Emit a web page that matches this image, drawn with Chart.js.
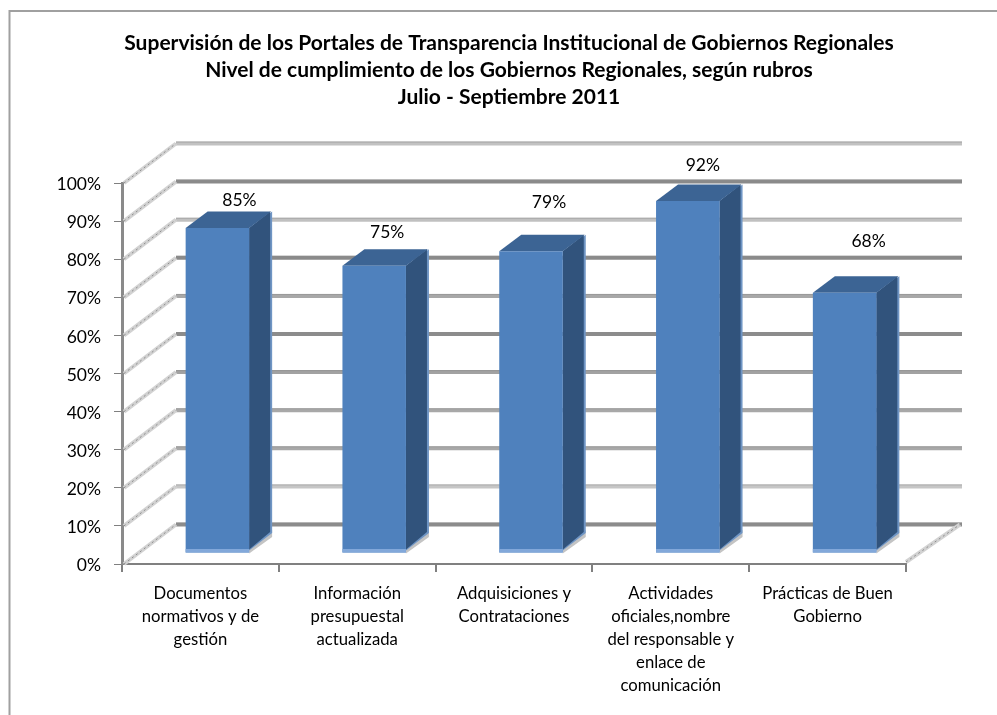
<!DOCTYPE html>
<html>
<head>
<meta charset="utf-8">
<style>html,body{margin:0;padding:0;background:#fff}canvas{display:block}</style>
<script src="https://cdn.jsdelivr.net/npm/chart.js@4"></script>
</head>
<body>
<canvas id="c" width="997" height="715"></canvas>
<script>
const titleLines = [
  "Supervisión de los Portales de Transparencia Institucional de Gobiernos Regionales",
  "Nivel de cumplimiento de los Gobiernos Regionales, según rubros",
  "Julio - Septiembre 2011"
];
const categories = [
  ["Documentos", "normativos y de", "gestión"],
  ["Información", "presupuestal", "actualizada"],
  ["Adquisiciones y", "Contrataciones"],
  ["Actividades", "oficiales,nombre", "del responsable y", "enlace de", "comunicación"],
  ["Prácticas de Buen", "Gobierno"]
];
const values = [85.3, 75.4, 79.2, 92.4, 68.3];
const gridValues = [0, 10, 20, 30, 40, 50, 60, 70, 80, 90, 100];

// styling only
const gridColors = ["#8c8c8c","#c6c6c6","#a8a8a8","#a8a8a8","#a2a2a2","#8c8c8c","#a8a8a8","#8a8a8a","#c0c0c0","#8a8a8a","#c2c2c2"];
const labelNudgeX = [22, 13, 18, 15, 24];
const labelNudgeY = [-29, -34, -50, -37, -52];
const WALL_DX = 54, WALL_DY = 39.5, WALL_END = 962;
const BAR_SHIFT_X = 17, BAR_SHIFT_Y = -11, BAR_DX = 22, BAR_DY = 16.5;
const FONT = "Lato";

const scene = {
  id: "scene",
  beforeDraw(chart) {
    const ctx = chart.ctx;
    ctx.save();
    ctx.fillStyle = "#fff";
    ctx.fillRect(0, 0, chart.width, chart.height);
    ctx.strokeStyle = "#a0a0a0";
    ctx.lineWidth = 2;
    ctx.beginPath();
    ctx.moveTo(9.5, chart.height);
    ctx.lineTo(9.5, 11);
    ctx.lineTo(chart.width, 11);
    ctx.stroke();
    ctx.restore();
  },
  beforeDatasetsDraw(chart) {
    const ctx = chart.ctx, y = chart.scales.y, a = chart.chartArea;
    ctx.save();
    gridValues.forEach((v, i) => {
      const py = y.getPixelForValue(v);
      ctx.strokeStyle = gridColors[i];
      ctx.lineWidth = 4;
      ctx.beginPath();
      ctx.moveTo(a.left + WALL_DX, py - WALL_DY);
      ctx.lineTo(WALL_END, py - WALL_DY);
      ctx.stroke();
      ctx.strokeStyle = "rgba(140,140,140,0.55)";
      ctx.lineWidth = 1;
      ctx.beginPath();
      ctx.moveTo(a.left + WALL_DX, py - WALL_DY - 1.5);
      ctx.lineTo(WALL_END, py - WALL_DY - 1.5);
      ctx.stroke();
      // side wall diagonal
      ctx.strokeStyle = "#d2d2d2";
      ctx.lineWidth = 4;
      ctx.beginPath();
      ctx.moveTo(a.left + 2, py);
      ctx.lineTo(a.left + WALL_DX, py - WALL_DY);
      ctx.stroke();
      ctx.strokeStyle = "#8e8e8e";
      ctx.lineWidth = 1;
      ctx.setLineDash([2, 3]);
      ctx.beginPath();
      ctx.moveTo(a.left + 2, py);
      ctx.lineTo(a.left + WALL_DX, py - WALL_DY);
      ctx.stroke();
      ctx.setLineDash([]);
    });
    // right side floor edge
    const by = y.getPixelForValue(0);
    ctx.strokeStyle = "#d2d2d2";
    ctx.lineWidth = 4;
    ctx.beginPath();
    ctx.moveTo(a.right, by - 2);
    ctx.lineTo(a.right + 54, by - WALL_DY);
    ctx.stroke();
    ctx.strokeStyle = "#8e8e8e";
    ctx.lineWidth = 1;
    ctx.setLineDash([2, 3]);
    ctx.beginPath();
    ctx.moveTo(a.right, by - 2);
    ctx.lineTo(a.right + 54, by - WALL_DY);
    ctx.stroke();
    ctx.restore();
  },
  beforeDatasetDraw(chart) {
    const ctx = chart.ctx;
    ctx.save();
    ctx.translate(BAR_SHIFT_X, BAR_SHIFT_Y);
    chart.getDatasetMeta(0).data.forEach(el => {
      const l = el.x - el.width / 2, r = el.x + el.width / 2, t = el.y, b = el.base;
      // shadow on the lower and right edges
      ctx.fillStyle = "#c4c4c4";
      ctx.beginPath();
      ctx.moveTo(r, b + 1);
      ctx.lineTo(r + BAR_DX + 1, b - BAR_DY + 1);
      ctx.lineTo(r + BAR_DX + 1, b - BAR_DY - 6);
      ctx.lineTo(r, b - 4);
      ctx.closePath();
      ctx.fill();
      // side face
      ctx.fillStyle = "#6f95c4";
      ctx.beginPath();
      ctx.moveTo(r, b - 2);
      ctx.lineTo(r + BAR_DX + 1, b - BAR_DY - 3);
      ctx.lineTo(r + BAR_DX + 1, t - BAR_DY);
      ctx.lineTo(r, t);
      ctx.closePath();
      ctx.fill();
      ctx.fillStyle = "#31537c";
      ctx.beginPath();
      ctx.moveTo(r, b - 3);
      ctx.lineTo(r + BAR_DX - 1, b - BAR_DY - 4);
      ctx.lineTo(r + BAR_DX - 1, t - BAR_DY);
      ctx.lineTo(r, t);
      ctx.closePath();
      ctx.fill();
      // top face
      ctx.fillStyle = "#3c6494";
      ctx.beginPath();
      ctx.moveTo(l, t);
      ctx.lineTo(l + BAR_DX, t - BAR_DY);
      ctx.lineTo(r + BAR_DX, t - BAR_DY);
      ctx.lineTo(r, t);
      ctx.closePath();
      ctx.fill();
    });
  },
  afterDatasetDraw(chart) {
    const ctx = chart.ctx;
    chart.getDatasetMeta(0).data.forEach(el => {
      const l = el.x - el.width / 2;
      ctx.fillStyle = "#82a8da";
      ctx.fillRect(l, el.base - 3.5, el.width, 3.5);
    });
    ctx.restore();
  },
  afterDatasetsDraw(chart) {
    const ctx = chart.ctx;
    ctx.save();
    ctx.fillStyle = "#000";
    ctx.font = "17.5px " + FONT;
    ctx.textAlign = "center";
    ctx.textBaseline = "middle";
    chart.getDatasetMeta(0).data.forEach((el, i) => {
      const text = Math.round(values[i]) + "%";
      ctx.fillText(text, el.x + BAR_SHIFT_X + labelNudgeX[i], el.y + BAR_SHIFT_Y + labelNudgeY[i] + 1);
    });
    ctx.restore();
  }
};

new Chart(document.getElementById("c"), {
  type: "bar",
  data: {
    labels: categories,
    datasets: [{
      data: values,
      backgroundColor: "#4f81bd",
      borderWidth: 0,
      barPercentage: 0.405,
      categoryPercentage: 1
    }]
  },
  plugins: [scene],
  options: {
    responsive: false,
    animation: false,
    devicePixelRatio: 1,
    layout: { padding: { left: 21, right: 0, top: 0, bottom: 0 } },
    plugins: {
      legend: { display: false },
      tooltip: { enabled: false },
      title: {
        display: true,
        text: titleLines,
        color: "#000",
        font: { family: FONT, size: 21, weight: "bold", lineHeight: 27 / 21 },
        padding: { top: 30, bottom: 72 }
      }
    },
    scales: {
      x: {
        afterFit(s) { s.height = 151; },
        grid: { drawOnChartArea: false, tickLength: 8, color: "#808080", lineWidth: 2 },
        border: { color: "#808080", width: 2 },
        ticks: {
          color: "#000",
          padding: 10,
          maxRotation: 0,
          autoSkip: false,
          font: { family: FONT, size: 16.7, lineHeight: 23 / 16.7 }
        }
      },
      y: {
        min: 0,
        max: 100,
        afterFit(s) { s.width = 101; },
        grid: { drawOnChartArea: false, tickLength: 8, color: "#808080", lineWidth: 1 },
        border: { color: "#8a8a8a", width: 3 },
        ticks: {
          stepSize: 10,
          color: "#000",
          padding: 13,
          labelOffset: 1.5,
          font: { family: FONT, size: 17.5 },
          callback: v => v + "%"
        }
      },
      spacer: {
        position: "right",
        afterFit(s) { s.width = 91; },
        grid: { display: false },
        border: { display: false },
        ticks: { display: false }
      }
    }
  }
});
</script>
</body>
</html>
